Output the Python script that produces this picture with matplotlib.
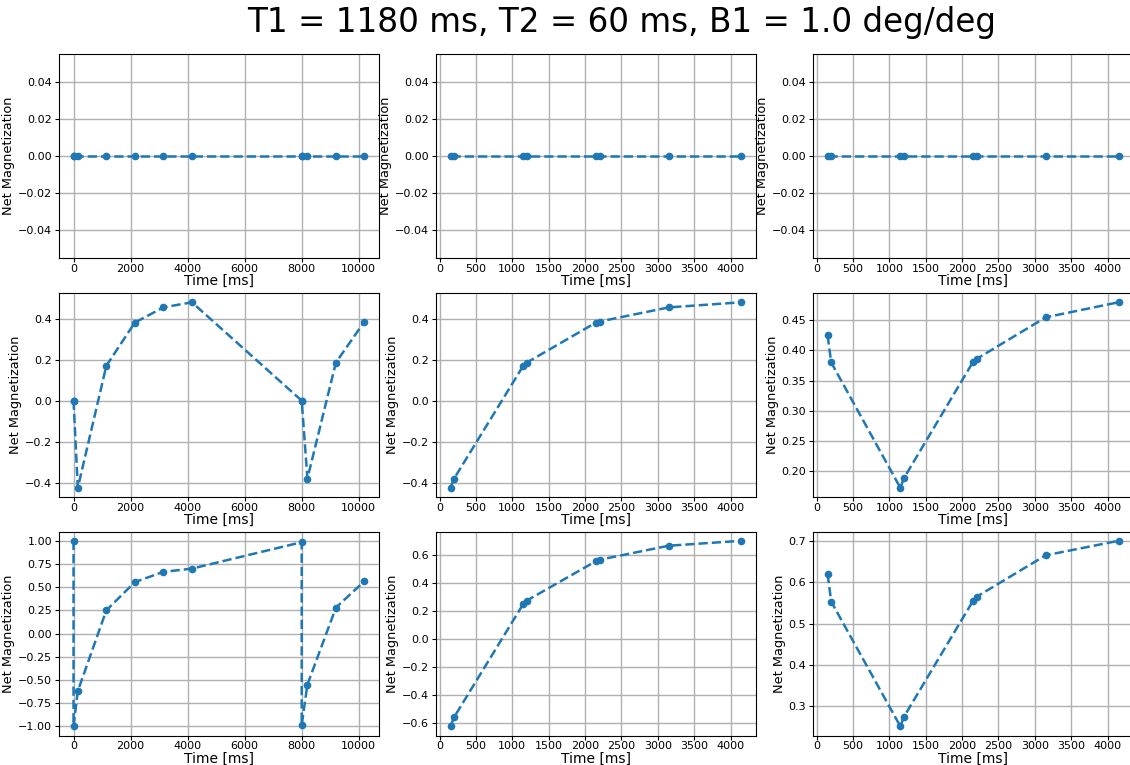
import numpy as np
import matplotlib
matplotlib.use('Agg')
from matplotlib import pyplot as plt

# readout times: full sequence (two inversion blocks) and merged single-cycle view
t_full = [0, 0, 150, 1150, 2150, 3150, 4150, 8000, 8000, 8200, 9200, 10200]
t_merged = [150, 200, 1150, 1200, 2150, 2200, 3150, 4150]

# row 1: transverse signal (zero everywhere)
mxy_full = [0, 0, 0, 0, 0, 0, 0, 0, 0, 0, 0, 0]
mxy_merged = [0, 0, 0, 0, 0, 0, 0, 0]

# row 2: signal at readout
sig_full = [0.0, 0.0, -0.425, 0.17, 0.381, 0.455, 0.48, 0.0, 0.0, -0.38, 0.186, 0.386]
sig_merged = [-0.425, -0.38, 0.17, 0.186, 0.381, 0.386, 0.455, 0.48]
sig_abs = [0.425, 0.38, 0.172, 0.188, 0.381, 0.386, 0.455, 0.48]

# row 3: longitudinal magnetization
mz_full = [1.0, -1.0, -0.62, 0.25, 0.555, 0.665, 0.70, 0.985, -0.985, -0.55, 0.28, 0.565]
mz_merged = [-0.62, -0.555, 0.25, 0.275, 0.555, 0.565, 0.665, 0.70]
mz_abs = [0.62, 0.553, 0.252, 0.275, 0.555, 0.565, 0.665, 0.70]

panels = [
    [(t_full, mxy_full), (t_merged, mxy_merged), (t_merged, mxy_merged)],
    [(t_full, sig_full), (t_merged, sig_merged), (t_merged, sig_abs)],
    [(t_full, mz_full), (t_merged, mz_merged), (t_merged, mz_abs)],
]

fig = plt.figure(figsize=(11.3, 7.65), dpi=100)
fig.text(0.55, 0.971, 'T1 = 1180 ms, T2 = 60 ms, B1 = 1.0 deg/deg',
         ha='center', va='center', fontsize=23.5)

lefts = [0.0522, 0.3858, 0.7195]
bottoms = [0.6627, 0.3503, 0.0385]
w, h = 0.2832, 0.2667

for r in range(3):
    for c in range(3):
        ax = fig.add_axes([lefts[c], bottoms[r], w, h])
        x, y = panels[r][c]
        ax.plot(x, y, 'o--', color='#1f77b4', markersize=4.5, linewidth=1.8)
        ax.grid(True, color='#b0b0b0', linewidth=1.0)
        ax.set_xlabel('Time [ms]', fontsize=10, labelpad=0.5)
        ax.set_ylabel('Net Magnetization', fontsize=9.3, labelpad=2)
        ax.tick_params(axis='x', labelsize=8, length=3, pad=1)
        ax.tick_params(axis='y', labelsize=8, length=3, pad=2)
        if c > 0:
            ax.set_xticks(np.arange(0, 4001, 500))

fig.savefig('out.png', dpi=100)
